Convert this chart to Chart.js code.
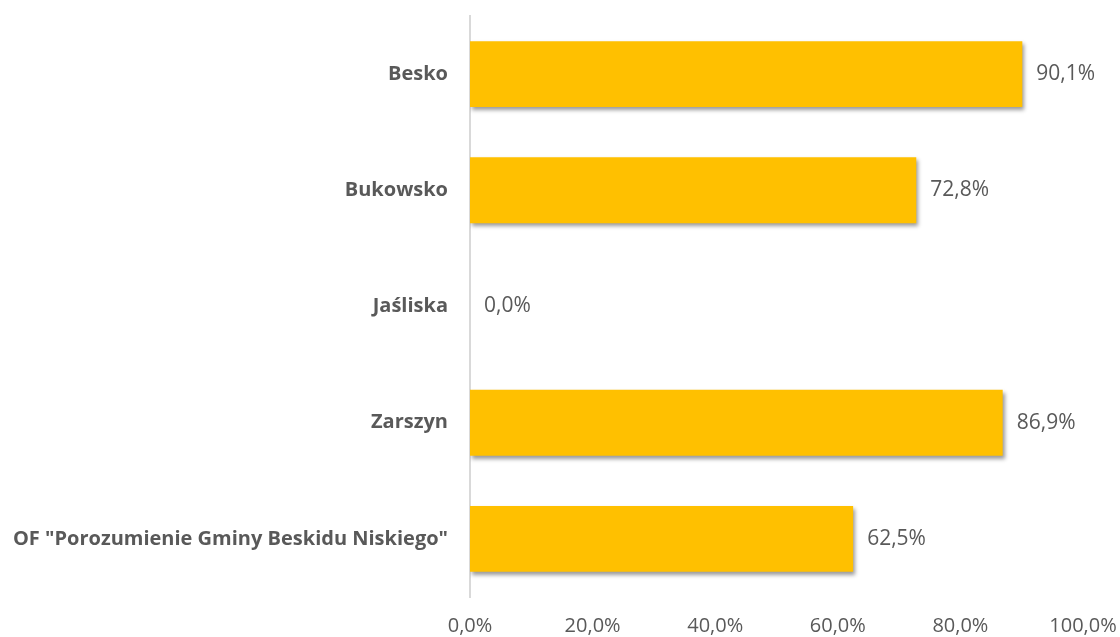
<!DOCTYPE html>
<html>
<head>
<meta charset="utf-8">
<script src="https://cdn.jsdelivr.net/npm/chart.js@4/dist/chart.umd.min.js"></script>
<style>
  html, body { margin: 0; padding: 0; background: #ffffff; }
  #wrap { width: 1120px; height: 637px; position: relative; }
</style>
</head>
<body>
<div id="wrap"><canvas id="chart"></canvas></div>
<script>
const categories = [
  "Besko",
  "Bukowsko",
  "Jaśliska",
  "Zarszyn",
  'OF "Porozumienie Gminy Beskidu Niskiego"',
];
const shares = [90.1, 72.8, 0.0, 86.9, 62.5];
const tickValues = [0, 20, 40, 60, 80, 100];

const textColor = "#595959";
const barColor = "#FFC000";

function pct(v) {
  return v.toFixed(1).replace(".", ",") + "%";
}

// soft drop shadow under the bars
const barShadow = {
  id: "barShadow",
  beforeDatasetsDraw(chart) {
    const ctx = chart.ctx;
    ctx.save();
    ctx.shadowColor = "rgba(0, 0, 0, 0.4)";
    ctx.shadowBlur = 4;
    ctx.shadowOffsetX = 2;
    ctx.shadowOffsetY = 3;
  },
  afterDatasetsDraw(chart) {
    chart.ctx.restore();
  },
};

// value text to the right of each bar
const valueLabels = {
  id: "valueLabels",
  afterDraw(chart) {
    const ctx = chart.ctx;
    const meta = chart.getDatasetMeta(0);
    ctx.save();
    ctx.font = "21px 'Open Sans'";
    ctx.fillStyle = textColor;
    ctx.textAlign = "left";
    ctx.textBaseline = "middle";
    meta.data.forEach((bar, i) => {
      ctx.fillText(pct(shares[i]), bar.x + 14, bar.y);
    });
    ctx.restore();
  },
};

new Chart(document.getElementById("chart"), {
  type: "bar",
  data: {
    labels: categories,
    datasets: [
      {
        data: shares,
        backgroundColor: barColor,
        borderWidth: 0,
        barPercentage: 0.567,
        categoryPercentage: 1,
      },
    ],
  },
  options: {
    indexAxis: "y",
    responsive: true,
    maintainAspectRatio: false,
    animation: false,
    layout: {
      padding: { top: 16, right: 37, left: 0, bottom: 0 },
    },
    plugins: {
      legend: { display: false },
      tooltip: { enabled: false },
    },
    scales: {
      x: {
        min: 0,
        max: 100,
        afterBuildTicks(scale) {
          scale.ticks = tickValues.map((v) => ({ value: v }));
        },
        afterFit(scale) {
          scale.height = 40;
          scale.paddingLeft = 0;
          scale.paddingRight = 0;
        },
        grid: { display: false, drawTicks: false },
        border: { display: false },
        ticks: {
          padding: 17,
          color: textColor,
          font: { family: "'Open Sans'", size: 20 },
          callback: (v) => pct(v),
        },
      },
      y: {
        afterFit(scale) {
          scale.width = 470;
          scale.paddingTop = 0;
          scale.paddingBottom = 0;
        },
        grid: { color: "transparent", drawTicks: false },
        border: { display: true, color: "#d9d9d9", width: 2 },
        ticks: {
          padding: 22,
          color: textColor,
          font: { family: "'Open Sans'", size: 20, weight: "bold" },
        },
      },
    },
  },
  plugins: [barShadow, valueLabels],
});
</script>
</body>
</html>
